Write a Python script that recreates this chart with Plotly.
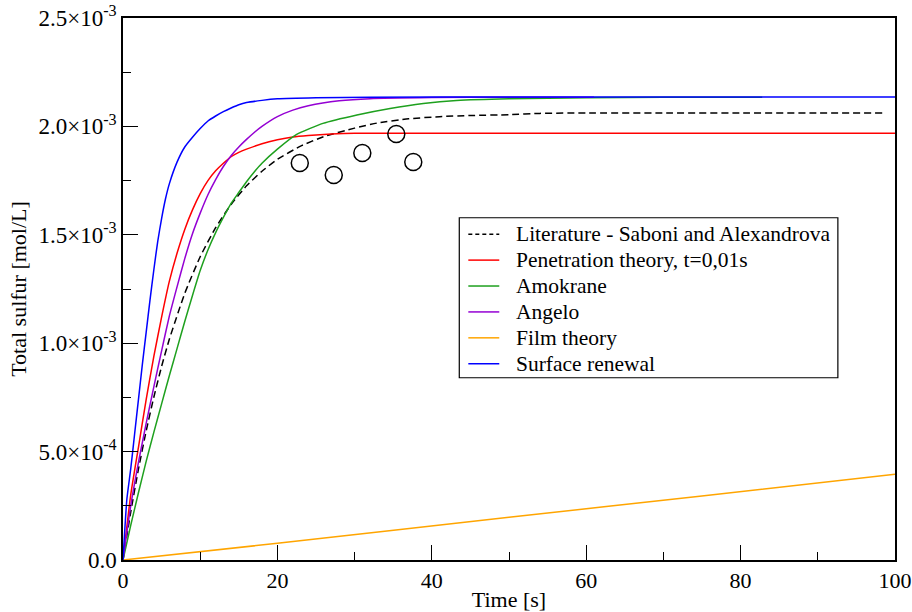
import numpy as np
import plotly.graph_objects as go

# Data (y in units of 1e-3 mol/L)
lit_t = [0, 1, 2, 3, 4, 5, 6, 8, 10, 12, 14, 16, 18, 20, 23, 26, 30, 33, 37, 41, 45, 50, 54, 60, 70, 80, 90, 98.4]
lit_y = [0, 0.221, 0.419, 0.595, 0.752, 0.893, 1.018, 1.230, 1.399, 1.533, 1.640, 1.726, 1.793, 1.848, 1.909,
         1.953, 1.992, 2.016, 2.035, 2.045, 2.050, 2.054, 2.060, 2.062, 2.062, 2.062, 2.062, 2.062]

pen_t = [0, 1, 2, 3, 4, 5, 6, 7, 8, 9, 10, 11, 12, 13, 14, 15, 16, 18, 20, 22, 24, 27, 30, 40, 60, 80, 100]
pen_y = [0, 0.30, 0.52, 0.74, 0.94, 1.12, 1.285, 1.415, 1.525, 1.615, 1.69, 1.75, 1.795, 1.83, 1.86, 1.88,
         1.895, 1.92, 1.938, 1.951, 1.958, 1.965, 1.968, 1.968, 1.968, 1.968, 1.968]

amo_t = [0, 1, 2, 3, 4, 5, 6, 7, 8, 9, 10, 11, 12, 13, 14, 15, 16, 17, 18, 20, 22.5, 25.9, 30.3, 34.6, 38.9,
         43.2, 50, 60, 70, 82.8]
amo_y = [0, 0.16, 0.31, 0.455, 0.59, 0.72, 0.85, 0.975, 1.10, 1.22, 1.335, 1.43, 1.51, 1.58, 1.645, 1.695,
         1.745, 1.79, 1.83, 1.895, 1.963, 2.014, 2.053, 2.083, 2.106, 2.120, 2.128, 2.132, 2.134, 2.135]

ang_t = [0, 1, 2, 3, 4, 5, 6, 7, 8, 9, 10, 11, 12, 13, 14, 15, 16, 17, 18, 20, 22, 24, 28, 32, 40, 50, 61]
ang_y = [0, 0.25, 0.45, 0.63, 0.80, 0.965, 1.125, 1.26, 1.39, 1.505, 1.60, 1.685, 1.755, 1.815, 1.865, 1.905,
         1.94, 1.972, 2.00, 2.045, 2.075, 2.095, 2.118, 2.128, 2.133, 2.135, 2.135]

film_t = [0, 20, 50, 74.7, 100]
film_y = [0, 0.077, 0.197, 0.294, 0.395]

sur_t = [0, 0.5, 1, 1.5, 2, 2.5, 3, 3.5, 4, 4.5, 5, 5.5, 6, 7, 8, 9, 10, 11, 12, 13, 14, 15, 16, 18, 20, 25,
         32, 50, 100]
sur_y = [0, 0.28, 0.42, 0.58, 0.74, 0.90, 1.05, 1.20, 1.34, 1.47, 1.575, 1.665, 1.735, 1.835, 1.905, 1.95,
         1.99, 2.025, 2.048, 2.068, 2.085, 2.10, 2.11, 2.12, 2.127, 2.132, 2.135, 2.136, 2.136]

exp_t = [22.9, 27.3, 31.0, 35.4, 37.6]
exp_y = [1.831, 1.776, 1.877, 1.965, 1.836]

ytick_vals = [0, 0.5, 1.0, 1.5, 2.0, 2.5]
ytick_text = ["0.0", "5.0×10<sup>-4</sup>", "1.0×10<sup>-3</sup>", "1.5×10<sup>-3</sup>",
              "2.0×10<sup>-3</sup>", "2.5×10<sup>-3</sup>"]
yminor_vals = [0.25, 0.75, 1.25, 1.75, 2.25]
xtick_vals = [0, 20, 40, 60, 80, 100]
xminor_vals = [10, 30, 50, 70, 90]

S = 1e-3
font = "Liberation Serif, Times New Roman, serif"

series = [
    ("Literature - Saboni and Alexandrova", lit_t, lit_y, "#000000", "7px,4px"),
    ("Penetration theory, t=0,01s", pen_t, pen_y, "#ff0000", "solid"),
    ("Amokrane", amo_t, amo_y, "#1ea01e", "solid"),
    ("Angelo", ang_t, ang_y, "#9400d3", "solid"),
    ("Film theory", film_t, film_y, "#ffa500", "solid"),
    ("Surface renewal", sur_t, sur_y, "#0000ff", "solid"),
]

fig = go.Figure()
for name, t, y, c, d in series:
    fig.add_trace(go.Scatter(x=t, y=np.array(y) * S, mode="lines", name=name, showlegend=False,
                             line=dict(color=c, width=1.5, dash=d, shape="spline", smoothing=0.5)))

fig.add_trace(go.Scatter(x=exp_t, y=np.array(exp_y) * S, mode="markers", showlegend=False,
                         marker=dict(symbol="circle-open", size=17, color="black", line=dict(width=1.5))))

# Legend box drawn in paper coordinates (layout only)
leg_x0, leg_x1, leg_y0, leg_y1 = 0.4356, 0.926, 0.3363, 0.6315
sample_x0, sample_x1, text_x = 0.4473, 0.4874, 0.5065
row_top, row_step = 0.6011, 0.0478
fig.add_shape(type="rect", xref="paper", yref="paper", x0=leg_x0, x1=leg_x1, y0=leg_y0, y1=leg_y1,
              line=dict(color="black", width=1.2), fillcolor="white", layer="above")
for i, (name, t, y, c, d) in enumerate(series):
    ry = row_top - i * row_step
    fig.add_shape(type="line", xref="paper", yref="paper", x0=sample_x0, x1=sample_x1, y0=ry, y1=ry,
                  line=dict(color=c, width=1.5, dash="4px,3px" if d != "solid" else "solid"), layer="above")
    fig.add_annotation(xref="paper", yref="paper", x=text_x, y=ry, xanchor="left", yanchor="middle",
                       text=name, showarrow=False, font=dict(size=21.5, family=font, color="black"))

fig.update_layout(
    width=912, height=612,
    margin=dict(l=123, r=17, t=18, b=52),
    paper_bgcolor="white", plot_bgcolor="white",
    font=dict(family=font, size=22, color="black"),
    showlegend=False,
)
fig.update_xaxes(range=[0, 100], tickvals=xtick_vals, ticks="inside", ticklen=15, tickwidth=1,
                 tickcolor="black", showline=True, linecolor="black", linewidth=1.5, mirror=True,
                 showgrid=False, zeroline=False, automargin=False, tickfont=dict(size=22),
                 ticklabeloverflow="allow",
                 minor=dict(tickvals=xminor_vals, ticks="inside", ticklen=8, tickcolor="black", showgrid=False),
                 title=dict(text="Time [s]", font=dict(size=22), standoff=0))
fig.update_yaxes(range=[0, 2.5e-3], tickvals=np.array(ytick_vals) * S, ticktext=ytick_text,
                 ticks="inside", ticklen=15, tickwidth=1, tickcolor="black",
                 showline=True, linecolor="black", linewidth=1.5, mirror=True,
                 showgrid=False, zeroline=False, automargin=False, tickfont=dict(size=23),
                 ticklabeloverflow="allow",
                 minor=dict(tickvals=list(np.array(yminor_vals) * S), ticks="inside",
                            ticklen=8, tickcolor="black", showgrid=False),
                 title=dict(text="Total sulfur [mol/L]", font=dict(size=22), standoff=6))

# remove the browser's default 8px page margin so the figure sits at the window origin
fig.write_html("out.html", config={"displayModeBar": False},
               post_script="document.body.style.margin='0';")
